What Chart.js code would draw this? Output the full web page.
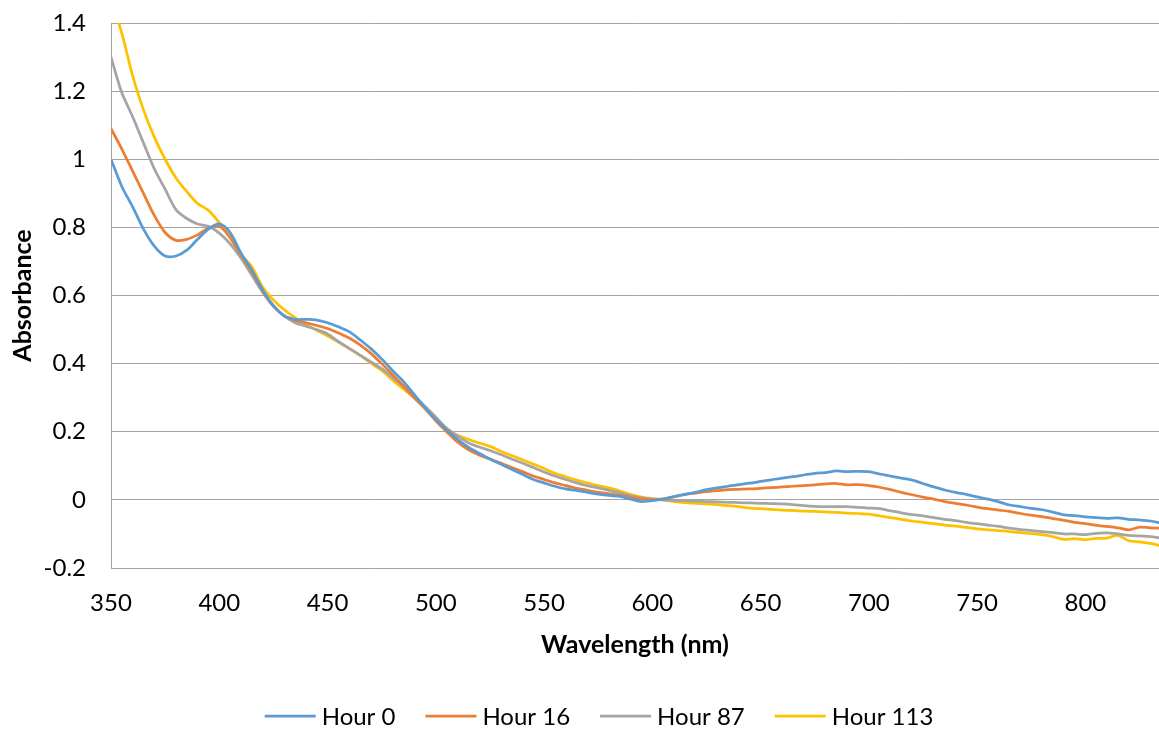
<!DOCTYPE html>
<html>
<head>
<meta charset="utf-8">
<script src="https://cdn.jsdelivr.net/npm/chart.js@4"></script>
<style>
  html, body { margin: 0; padding: 0; background: #fff; }
  #wrap { width: 1159px; height: 729px; }
</style>
</head>
<body>
<div id="wrap"><canvas id="c" width="1159" height="729"></canvas></div>
<script>
// ---- data ----
const wavelengths = [];
for (let w = 350; w <= 835; w += 5) wavelengths.push(w);

const seriesLabels = ['Hour 0', 'Hour 16', 'Hour 87', 'Hour 113'];
const seriesColors = ['#5B9BD5', '#ED7D31', '#A5A5A5', '#FFC000'];

const hour0 = [
  1.00, 0.92, 0.86, 0.795, 0.745, 0.716, 0.716, 0.733, 0.765, 0.795,
  0.81, 0.785, 0.725, 0.675, 0.617, 0.57, 0.54, 0.53, 0.53, 0.528,
  0.52, 0.508, 0.494, 0.47, 0.444, 0.414, 0.38, 0.348, 0.31, 0.27,
  0.237, 0.206, 0.178, 0.155, 0.137, 0.12, 0.105, 0.09, 0.075, 0.06,
  0.05, 0.04, 0.032, 0.028, 0.022, 0.017, 0.013, 0.01, 0.002, -0.005,
  -0.002, 0.002, 0.01, 0.016, 0.022, 0.03, 0.035, 0.04, 0.045, 0.049,
  0.054, 0.059, 0.064, 0.068, 0.073, 0.078, 0.08, 0.085, 0.083, 0.084,
  0.083, 0.076, 0.07, 0.064, 0.058, 0.048, 0.038, 0.029, 0.022, 0.016,
  0.009, 0.002, -0.006, -0.015, -0.02, -0.025, -0.029, -0.036, -0.044, -0.046,
  -0.05, -0.052, -0.054, -0.053, -0.057, -0.059, -0.062, -0.068
];
const hour16 = [
  1.09, 1.03, 0.965, 0.9, 0.835, 0.785, 0.762, 0.765, 0.778, 0.797,
  0.803, 0.77, 0.72, 0.67, 0.615, 0.57, 0.54, 0.527, 0.52, 0.512,
  0.503, 0.49, 0.475, 0.455, 0.43, 0.4, 0.368, 0.335, 0.3, 0.268,
  0.232, 0.2, 0.17, 0.148, 0.132, 0.12, 0.108, 0.095, 0.083, 0.07,
  0.06, 0.05, 0.042, 0.034, 0.028, 0.022, 0.018, 0.013, 0.007, 0.002,
  0.0, 0.003, 0.009, 0.016, 0.02, 0.024, 0.027, 0.03, 0.031, 0.032,
  0.034, 0.036, 0.038, 0.04, 0.042, 0.044, 0.047, 0.048, 0.044, 0.045,
  0.042, 0.037, 0.03, 0.022, 0.015, 0.008, 0.002, -0.005, -0.01, -0.015,
  -0.021, -0.026, -0.03, -0.034, -0.04, -0.045, -0.049, -0.055, -0.06, -0.066,
  -0.07, -0.075, -0.078, -0.082, -0.088, -0.08, -0.082, -0.083
];
const hour87 = [
  1.30, 1.195, 1.125, 1.048, 0.972, 0.912, 0.852, 0.826, 0.81, 0.803,
  0.783, 0.752, 0.71, 0.66, 0.61, 0.568, 0.54, 0.52, 0.51, 0.5,
  0.487, 0.465, 0.445, 0.425, 0.405, 0.385, 0.36, 0.333, 0.305, 0.275,
  0.243, 0.21, 0.187, 0.168, 0.155, 0.145, 0.133, 0.12, 0.108, 0.095,
  0.082, 0.07, 0.06, 0.05, 0.042, 0.035, 0.028, 0.02, 0.012, 0.006,
  0.002, 0.0, -0.002, -0.002, -0.004, -0.005, -0.006, -0.007, -0.008, -0.009,
  -0.01, -0.011, -0.012, -0.014, -0.017, -0.019, -0.02, -0.02, -0.02, -0.022,
  -0.024, -0.026, -0.032, -0.038, -0.043, -0.047, -0.052, -0.057, -0.061, -0.066,
  -0.07, -0.074, -0.078, -0.083, -0.087, -0.09, -0.093, -0.096, -0.1, -0.1,
  -0.102, -0.098, -0.097, -0.1, -0.104, -0.106, -0.108, -0.112
];
const hour113 = [
  1.47, 1.37, 1.245, 1.145, 1.065, 1.0, 0.945, 0.905, 0.87, 0.85,
  0.814, 0.772, 0.72, 0.685, 0.625, 0.587, 0.558, 0.535, 0.515, 0.498,
  0.482, 0.463, 0.444, 0.424, 0.402, 0.38, 0.352, 0.326, 0.3, 0.27,
  0.242, 0.21, 0.19, 0.178, 0.167, 0.157, 0.143, 0.13, 0.118, 0.105,
  0.092, 0.078, 0.068, 0.058, 0.05, 0.042, 0.035, 0.026, 0.016, 0.008,
  0.004, 0.0, -0.005, -0.008, -0.01, -0.012, -0.014, -0.017, -0.02, -0.024,
  -0.026, -0.028, -0.03, -0.031, -0.033, -0.034, -0.035, -0.037, -0.039, -0.04,
  -0.042, -0.047, -0.052, -0.057, -0.062, -0.066, -0.07, -0.074, -0.077, -0.081,
  -0.085, -0.088, -0.09, -0.093, -0.096, -0.099, -0.102, -0.108, -0.116, -0.114,
  -0.117, -0.113, -0.112, -0.104, -0.12, -0.123, -0.128, -0.135
];
const seriesValues = [hour0, hour16, hour87, hour113];

const xTicks = [350, 400, 450, 500, 550, 600, 650, 700, 750, 800];
const yTicks = [-0.2, 0, 0.2, 0.4, 0.6, 0.8, 1, 1.2, 1.4];
const xTitle = 'Wavelength (nm)';
const yTitle = 'Absorbance';

// ---- chart ----
const FONT = 'Lato';
const GRID = '#a3a3a3';

const legendPlugin = {
  id: 'bottomLegend',
  afterDraw(chart) {
    const ctx = chart.ctx;
    const ds = chart.data.datasets;
    ctx.save();
    ctx.font = '24px ' + FONT;
    const lineLen = 51, gapText = 6, gapItem = 30;
    const widths = ds.map(d => ctx.measureText(d.label).width);
    const total = widths.reduce((a, b) => a + b, 0) + ds.length * (lineLen + gapText) + (ds.length - 1) * gapItem;
    let x = 599 - total / 2;
    const y = 716;
    ds.forEach((d, i) => {
      ctx.strokeStyle = d.borderColor;
      ctx.lineWidth = 2.75;
      ctx.beginPath();
      ctx.moveTo(x, y);
      ctx.lineTo(x + lineLen, y);
      ctx.stroke();
      x += lineLen + gapText;
      ctx.fillStyle = '#000';
      ctx.textBaseline = 'middle';
      ctx.textAlign = 'left';
      ctx.fillText(d.label, x, y + 1);
      x += widths[i] + gapItem;
    });
    ctx.restore();
  }
};

new Chart(document.getElementById('c'), {
  type: 'line',
  data: {
    datasets: seriesLabels.map((label, i) => ({
      label,
      data: wavelengths.map((w, j) => ({ x: w, y: seriesValues[i][j] })),
      borderColor: seriesColors[i],
      backgroundColor: seriesColors[i],
      borderWidth: 2.75,
      pointRadius: 0,
      tension: 0.3,
      fill: false
    }))
  },
  options: {
    responsive: false,
    animation: false,
    layout: { padding: { top: 23, right: 0, bottom: 61, left: 0 } },
    plugins: {
      legend: { display: false },
      tooltip: { enabled: false }
    },
    scales: {
      x: {
        type: 'linear',
        min: 350,
        max: 834,
        afterBuildTicks: s => { s.ticks = xTicks.map(v => ({ value: v })); },
        afterFit: s => { s.height = 100; s.paddingLeft = 0; s.paddingRight = 0; },
        grid: { display: false, drawTicks: false },
        border: { display: false },
        ticks: {
          padding: 21,
          color: '#000',
          font: { family: FONT, size: 24 },
          maxRotation: 0,
          callback: v => String(v)
        },
        title: {
          display: true,
          text: xTitle,
          color: '#000',
          font: { family: FONT, size: 25, weight: 'bold' },
          padding: { top: 0, bottom: 8 }
        }
      },
      y: {
        min: -0.2,
        max: 1.4,
        afterBuildTicks: s => { s.ticks = yTicks.map(v => ({ value: v })); },
        afterFit: s => { s.width = 111; s.paddingTop = 0; s.paddingBottom = 0; },
        grid: { color: GRID, lineWidth: 1, drawTicks: false },
        border: { display: true, color: GRID, width: 1 },
        ticks: {
          padding: 25,
          color: '#000',
          font: { family: FONT, size: 24 },
          callback: v => String(Math.round(v * 10) / 10)
        },
        title: {
          display: true,
          text: yTitle,
          color: '#000',
          font: { family: FONT, size: 25, weight: 'bold' },
          padding: { top: 8, bottom: 0 }
        }
      }
    }
  },
  plugins: [legendPlugin]
});
</script>
</body>
</html>
